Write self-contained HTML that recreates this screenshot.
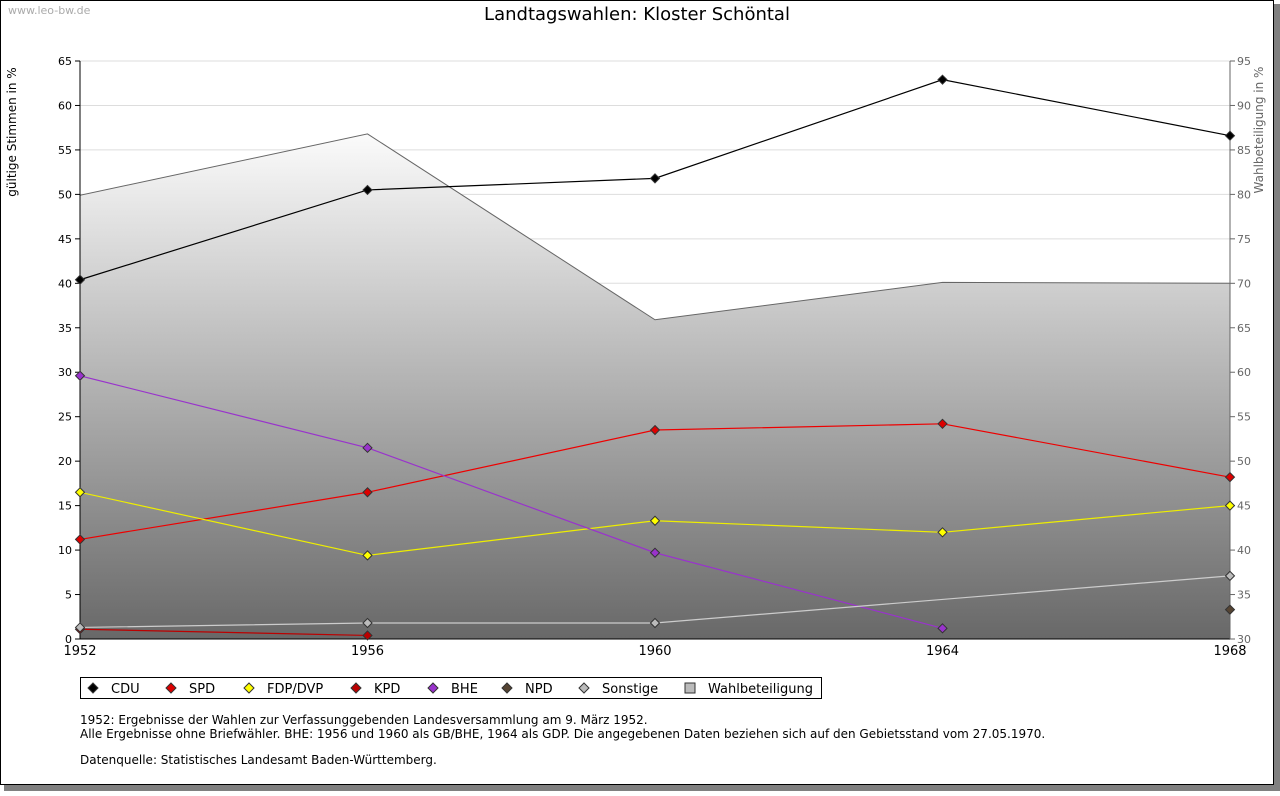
<!DOCTYPE html>
<html><head><meta charset="utf-8"><style>
body{margin:0;background:#fff;font-family:"Liberation Sans","DejaVu Sans",sans-serif;}
svg text{font-family:"DejaVu Sans","Liberation Sans",sans-serif;}
</style></head><body>
<svg id="c" width="1280" height="791" xmlns="http://www.w3.org/2000/svg">
<defs><linearGradient id="g" x1="0" y1="0" x2="0" y2="1" gradientUnits="objectBoundingBox">
<stop offset="0" stop-color="#fbfbfb"/><stop offset="1" stop-color="#686868"/></linearGradient></defs>
<rect x="4" y="4" width="1276" height="787" fill="#808080"/>
<rect x="0.5" y="0.5" width="1273" height="784" fill="#fff" stroke="#000"/>
<text x="8" y="14" font-size="11" fill="#aaa">www.leo-bw.de</text>
<text x="637" y="20" font-size="18" text-anchor="middle">Landtagswahlen: Kloster Schöntal</text>
<text transform="translate(16,132) rotate(-90)" font-size="12" text-anchor="middle">gültige Stimmen in %</text>
<text transform="translate(1263,130) rotate(-90)" font-size="12" fill="#666" text-anchor="middle">Wahlbeteiligung in %</text>
<g id="grid"></g><g id="area"></g><g id="axes"></g><g id="series"></g>
<g>
<rect x="80.5" y="677.5" width="741" height="21" fill="#fff" stroke="#000"/>
<g id="leg"></g></g>
<text x="80" y="724" font-size="12">1952: Ergebnisse der Wahlen zur Verfassunggebenden Landesversammlung am 9. März 1952.</text>
<text x="80" y="738" font-size="12">Alle Ergebnisse ohne Briefwähler. BHE: 1956 und 1960 als GB/BHE, 1964 als GDP. Die angegebenen Daten beziehen sich auf den Gebietsstand vom 27.05.1970.</text>
<text x="80" y="764" font-size="12">Datenquelle: Statistisches Landesamt Baden-Württemberg.</text>
</svg>
<script>
const years=[1952,1956,1960,1964,1968];
const cdu=[40.4,50.5,51.8,62.9,56.6];
const spd=[11.2,16.5,23.5,24.2,18.2];
const fdp=[16.5,9.4,13.3,12.0,15.0];
const kpd=[1.1,0.4,null,null,null];
const bhe=[29.6,21.5,9.7,1.2,null];
const npd=[null,null,null,null,3.3];
const sonst=[1.3,1.8,1.8,null,7.1];
const turnout=[79.9,86.8,65.9,70.1,70.0];
const leftTicks=[0,5,10,15,20,25,30,35,40,45,50,55,60,65];
const rightTicks=[30,35,40,45,50,55,60,65,70,75,80,85,90,95];
const legendLabels=["CDU","SPD","FDP/DVP","KPD","BHE","NPD","Sonstige","Wahlbeteiligung"];
const NS="http://www.w3.org/2000/svg";
const X0=80,X1=1230,YT=61,YB=639;
const xs=y=>X0+(y-1952)/(1968-1952)*(X1-X0);
const ys=v=>YB-v/65*(YB-YT);
const ys2=v=>YB-(v-30)/65*(YB-YT);
function mk(p,t,a){const e=document.createElementNS(NS,t);for(const k in a)e.setAttribute(k,a[k]);document.getElementById(p).appendChild(e);return e;}
leftTicks.forEach(v=>{const l=mk('grid','line',{x1:X0,x2:X1,y1:ys(v),y2:ys(v),stroke:'#ddd'});


mk('axes','line',{x1:X0-5,x2:X0,y1:ys(v),y2:ys(v),stroke:'#000'});
const t=mk('axes','text',{x:X0-8,y:ys(v)+4,'font-size':11,'text-anchor':'end'});t.textContent=v;

});
rightTicks.forEach(v=>{mk('axes','line',{x1:X1,x2:X1+5,y1:ys2(v),y2:ys2(v),stroke:'#666'});
const t=mk('axes','text',{x:X1+7,y:ys2(v)+4,'font-size':11,fill:'#666'});t.textContent=v;

});
let d='M'+xs(years[0])+','+YB;years.forEach((y,i)=>d+=' L'+xs(y)+','+ys2(turnout[i]));d+=' L'+xs(years[4])+','+YB+'Z';
const a=mk('area','path',{d:d,fill:'url(#g)',stroke:'#666'});


mk('axes','line',{x1:X0,x2:X0,y1:YT,y2:YB,stroke:'#000'});
mk('axes','line',{x1:X0,x2:X1,y1:YB,y2:YB,stroke:'#000'});
mk('axes','line',{x1:X1,x2:X1,y1:YT,y2:YB,stroke:'#666'});
years.forEach(y=>{const t=mk('axes','text',{x:xs(y),y:655,'font-size':13,'text-anchor':'middle'});t.textContent=y;

});
const ser=[[cdu,'#000','#000','cdu'],[spd,'#e00','#d00','spd'],[fdp,'#ee0','#ff0','fdp'],[kpd,'#b00','#b00','kpd'],[bhe,'#93c','#93c','bhe'],[npd,'#543','#543','npd'],[sonst,'#ccc','#bbb','sonstige']];
ser.forEach(([vals,lc,fc,n])=>{const pts=[];vals.forEach((v,i)=>{if(v!=null)pts.push([xs(years[i]),ys(v)]);});
if(pts.length>1){const l=mk('series','polyline',{points:pts.map(p=>p.join(',')).join(' '),fill:'none',stroke:lc,'stroke-width':1.2});

}
pts.forEach(p=>{const m=mk('series','path',{d:`M${p[0]},${p[1]-4.5} l4.5,4.5 l-4.5,4.5 l-4.5,-4.5Z`,fill:fc,stroke:'#333'});

});});
const legFill=['#000','#d00','#ff0','#b00','#93c','#543','#bbb'];
const legX=[93,171,249,356,433,507,584,690];
legendLabels.forEach((lab,i)=>{const x=legX[i];
if(i<7){mk('leg','path',{d:`M${x},${683} l5,5 l-5,5 l-5,-5Z`,fill:legFill[i],stroke:'#333'});}
else{mk('leg','rect',{x:x-5,y:683,width:10,height:10,fill:'#bbb',stroke:'#333'});}
const t=mk('leg','text',{x:x+18,y:693,'font-size':13});t.textContent=lab;

});
</script>
</body></html>
